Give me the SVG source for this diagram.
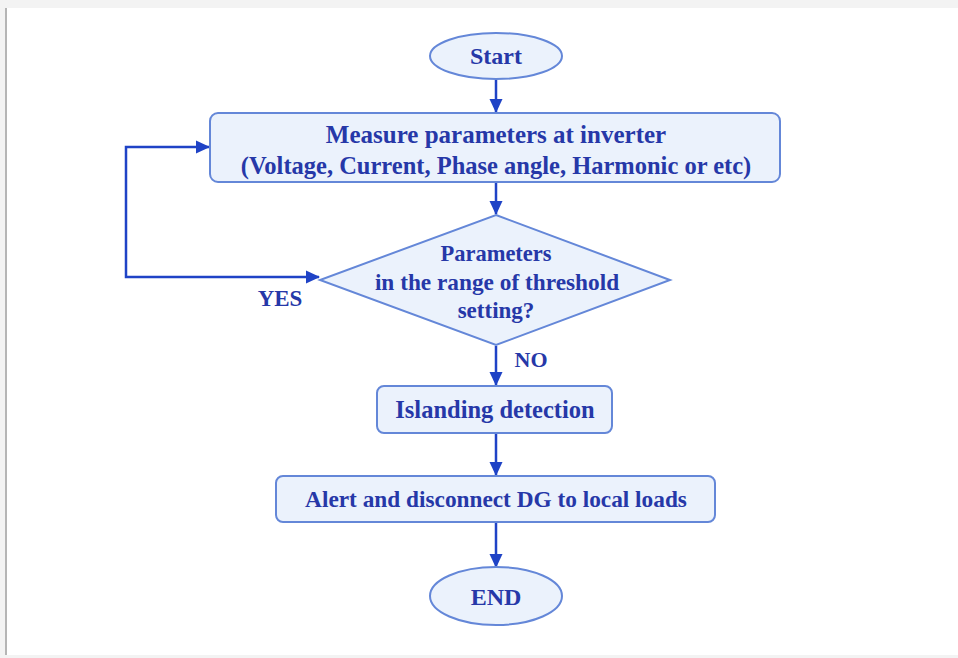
<svg xmlns="http://www.w3.org/2000/svg" width="958" height="658" viewBox="0 0 958 658">
<defs>
<marker id="ah" markerWidth="14" markerHeight="14" refX="13" refY="7" orient="auto-start-reverse" markerUnits="userSpaceOnUse" viewBox="0 0 14 14">
<path d="M0,0.5 L14,7 L0,13.5 z" fill="#1f43c6"/>
</marker>
<style>
.node{fill:#ebf2fc;stroke:#6487d8;stroke-width:2}
.t{font-family:"Liberation Serif","Times New Roman",serif;font-weight:bold;fill:#2638a8;text-anchor:middle}
.c{fill:none;stroke:#1f43c6;stroke-width:2.5}
</style>
</defs>
<rect x="0" y="0" width="958" height="658" fill="#f3f3f3"/>
<rect x="6" y="8" width="952" height="647" fill="#ffffff"/>
<line x1="6" y1="8" x2="6" y2="655" stroke="#b5b5b5" stroke-width="2"/>
<g id="connectors">
<line class="c" x1="496" y1="80" x2="496" y2="112" marker-end="url(#ah)"/>
<line class="c" x1="496" y1="183" x2="496" y2="214" marker-end="url(#ah)"/>
<path class="c" d="M319,277 H126 V147 H209" marker-start="url(#ah)" marker-end="url(#ah)"/>
<line class="c" x1="496" y1="346" x2="496" y2="385" marker-end="url(#ah)"/>
<line class="c" x1="496" y1="434" x2="496" y2="475" marker-end="url(#ah)"/>
<line class="c" x1="496" y1="523" x2="496" y2="567" marker-end="url(#ah)"/>
<text class="t" x="280" y="306" font-size="23">YES</text>
<text class="t" x="531" y="367" font-size="22">NO</text>
</g>
<g id="start">
<ellipse class="node" cx="496" cy="56" rx="66" ry="23"/>
<text class="t" x="496" y="64" font-size="24">Start</text>
</g>
<g id="measure">
<rect class="node" x="210" y="113" width="570" height="69" rx="8"/>
<text class="t" x="496" y="143" font-size="25">Measure parameters at inverter</text>
<text class="t" x="496" y="174" font-size="24.5">(Voltage, Current, Phase angle, Harmonic or etc)</text>
</g>
<g id="decision">
<polygon class="node" points="496,215 670,280 496,345 320,280"/>
<text class="t" x="496" y="261" font-size="22.5">Parameters</text>
<text class="t" x="497" y="290" font-size="23.3">in the range of threshold</text>
<text class="t" x="496" y="318" font-size="23">setting?</text>
</g>
<g id="islanding">
<rect class="node" x="377" y="386" width="235" height="47" rx="7"/>
<text class="t" x="495" y="418" font-size="24.5">Islanding detection</text>
</g>
<g id="alert">
<rect class="node" x="276" y="476" width="439" height="46" rx="7"/>
<text class="t" x="496" y="507" font-size="23.3">Alert and disconnect DG to local loads</text>
</g>
<g id="end">
<ellipse class="node" cx="496" cy="596" rx="66" ry="29"/>
<text class="t" x="496" y="605" font-size="24">END</text>
</g>
</svg>
